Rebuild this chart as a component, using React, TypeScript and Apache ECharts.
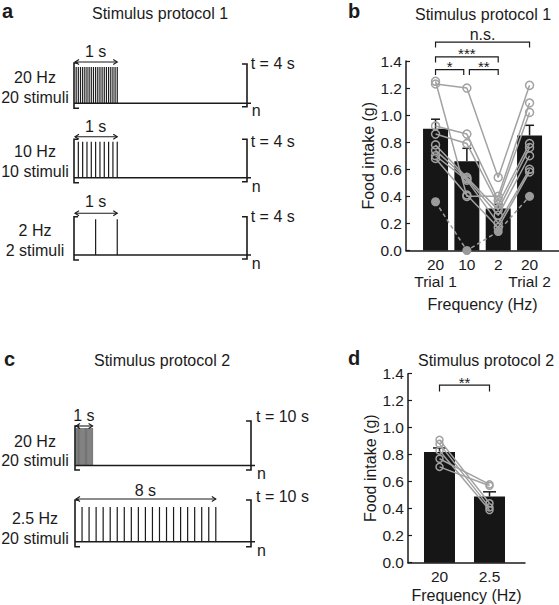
import React, { useEffect, useRef } from 'react';
import * as echarts from 'echarts';

// ---------------- data ----------------
// Panel b (stimulus protocol 1)
const freqLabelsB = ['20\nTrial 1', '10', '2', '20\nTrial 2'];
const meanB = [0.9, 0.66, 0.31, 0.85];
const semB = [0.07, 0.095, 0.03, 0.075];
const subjB1 = [1.23, 1.2, 0.54, 1.22];
const subjB2 = [1.25, 0.4, 0.4, 1.09];
const subjB3 = [0.92, 0.86, 0.37, 1.02];
const subjB4 = [0.86, 0.79, 0.34, 0.79];
const subjB5 = [0.78, 0.54, 0.3, 0.76];
const subjB6 = [0.74, 0.53, 0.26, 0.7];
const subjB7 = [0.7, 0.52, 0.2, 0.6];
const subjB8 = [0.68, 0.41, 0.17, 0.58];
const subjectsB = [subjB1, subjB2, subjB3, subjB4, subjB5, subjB6, subjB7, subjB8];
const filledSubjectB = [0.36, 0.0, 0.14, 0.4];
const bracketsB = [
  [1, 1.9, 1.337],
  [2.08, 3, 1.337],
  [1, 3, 1.43],
  [1, 4, 1.54],
];
const bracketLabelsB = ['*', '**', '***', 'n.s.'];

// Panel d (stimulus protocol 2)
const freqLabelsD = ['20', '2.5'];
const meanD = [0.82, 0.49];
const semD = [0.03, 0.035];
const subjectsD = [
  [0.91, 0.44],
  [0.88, 0.41],
  [0.83, 0.39],
  [0.77, 0.58],
  [0.71, 0.57],
];
const bracketsD = [[1, 2, 1.316]];
const bracketLabelsD = ['**'];

// Panels a and c (stimulus trains)
const p1Freq = [20, 10, 2];
const p1Count = [20, 10, 2];
const p1Window = 4; // s
const p1Span = [1, 1, 1];
const p2Freq = [20, 2.5];
const p2Count = [20, 20];
const p2Window = 10; // s
const p2Span = [1, 8];

// ---------------- style ----------------
const FONT = '"Liberation Sans", Arial, Helvetica, sans-serif';
const INK = '#1b1b1b';
const GRAY = '#a2a2a2';

// pixel layout of each train (style only)
const trainLayout = [
  { left: 74, right: 247, top: 67, base: 103.3, arrowDy: -5, spanTextDy: -16, lbTop: -4, lbBot: 5, rbTop: -3, rbBot: 3.5, lab1Y: 77, lab2Y: 97, tX: 250.7, tY: 63.3, nY: 110.7 },
  { left: 74, right: 247, top: 141.7, base: 177.7, arrowDy: -5, spanTextDy: -15.7, lbTop: -2.4, lbBot: 5, rbTop: -2.4, rbBot: 4, lab1Y: 151, lab2Y: 171, tX: 250.7, tY: 141.7, nY: 186.7 },
  { left: 74, right: 247, top: 219.3, base: 255, arrowDy: -6, spanTextDy: -17.6, lbTop: -2.6, lbBot: 5, rbTop: -2.6, rbBot: 4, lab1Y: 230, lab2Y: 250, tX: 250.7, tY: 216.7, nY: 263.3 },
  { left: 75, right: 251, top: 428, base: 465.5, arrowDy: -2, spanTextDy: -13, lbTop: -2, lbBot: 4.5, rbTop: -7, rbBot: 4.5, lab1Y: 441.7, lab2Y: 460.7, tX: 256, tY: 416.7, nY: 473 },
  { left: 75, right: 251, top: 507, base: 541.7, arrowDy: -8, spanTextDy: -17, lbTop: -7, lbBot: 5, rbTop: -7, rbBot: 5, lab1Y: 518, lab2Y: 538, tX: 256, tY: 496, nY: 550 },
];

const trains = [
  ...p1Freq.map((f, i) => ({ freq: f, count: p1Count[i], win: p1Window, span: p1Span[i], hz: `${f} Hz`, stim: `${p1Count[i]} stimuli`, tLabel: `t = ${p1Window} s` })),
  ...p2Freq.map((f, i) => ({ freq: f, count: p2Count[i], win: p2Window, span: p2Span[i], hz: `${f} Hz`, stim: `${p2Count[i]} stimuli`, tLabel: `t = ${p2Window} s` })),
];

function txt(text: string, x: number, y: number, o: any = {}) {
  const align = o.align || 'left';
  return {
    type: 'text',
    x,
    y,
    silent: true,
    style: {
      text,
      fill: INK,
      fontSize: o.size || 16,
      fontFamily: FONT,
      fontWeight: o.bold ? 'bold' : 'normal',
      align,
      textAlign: align,
      verticalAlign: 'middle',
      textVerticalAlign: 'middle',
    },
  };
}

function errRender(halfCap: number) {
  return (params: any, api: any) => {
    const x = api.value(0);
    const m = api.value(1);
    const s = api.value(2);
    const p0 = api.coord([x, m]);
    const p1 = api.coord([x, m + s]);
    return {
      type: 'group',
      children: [
        { type: 'line', shape: { x1: p0[0], y1: p0[1], x2: p1[0], y2: p1[1] }, style: { stroke: INK, lineWidth: 1.5 } },
        { type: 'line', shape: { x1: p1[0] - halfCap, y1: p1[1], x2: p1[0] + halfCap, y2: p1[1] }, style: { stroke: INK, lineWidth: 1.5 } },
      ],
    };
  };
}

function bracketRender(labels: string[], legPx: number) {
  return (params: any, api: any) => {
    const i = params.dataIndex;
    const a = api.coord([api.value(0), api.value(2)]);
    const b = api.coord([api.value(1), api.value(2)]);
    const label = labels[i];
    const star = label.indexOf('*') >= 0;
    return {
      type: 'group',
      children: [
        {
          type: 'polyline',
          shape: { points: [[a[0], a[1] + legPx], [a[0], a[1]], [b[0], b[1]], [b[0], b[1] + legPx]] },
          style: { stroke: INK, lineWidth: 1.2, fill: 'none' },
        },
        {
          type: 'text',
          style: {
            text: label,
            x: (a[0] + b[0]) / 2,
            y: a[1] - (star ? 3 : 8),
            align: 'center',
            verticalAlign: 'middle',
            fill: INK,
            fontSize: star ? 15 : 16,
            fontFamily: FONT,
          },
        },
      ],
    };
  };
}

function pulseRender(params: any, api: any) {
  const t = api.value(0);
  const a = api.coord([t, 0]);
  const b = api.coord([t, 1]);
  // spacing in px to the next pulse, so dense trains look grey as in the print
  const dt = api.value(2);
  const next = api.coord([t + dt, 0]);
  const gap = Math.abs(next[0] - a[0]);
  const w = gap < 1.5 ? 0.6 : 1.2;
  const col = gap < 1.5 ? '#222' : INK;
  return { type: 'line', shape: { x1: a[0], y1: a[1], x2: b[0], y2: b[1] }, style: { stroke: col, lineWidth: w } };
}

function decoRender(win: number, span: number, spanText: string, L: any) {
  return (params: any, api: any) => {
    const p0 = api.coord([0, 0]);
    const pT = api.coord([win, 1]);
    const x0 = p0[0];
    const base = p0[1];
    const xR = pT[0];
    const top = pT[1];
    const xS = api.coord([span, 1])[0];
    const ay = top + L.arrowDy;
    const h = 4;
    const st = { stroke: INK, lineWidth: 1.6, fill: 'none' };
    const thin = { stroke: INK, lineWidth: 1.1, fill: 'none' };
    return {
      type: 'group',
      children: [
        { type: 'line', shape: { x1: x0, y1: base, x2: xR + 4, y2: base }, style: st },
        { type: 'polyline', shape: { points: [[x0 + 4, top + L.lbTop], [x0, top + L.lbTop], [x0, base + L.lbBot], [x0 + 5, base + L.lbBot]] }, style: st },
        { type: 'polyline', shape: { points: [[xR - 5, top + L.rbTop], [xR, top + L.rbTop], [xR, base + L.rbBot], [xR - 5, base + L.rbBot]] }, style: st },
        { type: 'line', shape: { x1: x0 + 1, y1: ay, x2: xS, y2: ay }, style: thin },
        { type: 'polyline', shape: { points: [[x0 + 1 + h, ay - 2.5], [x0 + 1, ay], [x0 + 1 + h, ay + 2.5]] }, style: thin },
        { type: 'polyline', shape: { points: [[xS - h, ay - 2.5], [xS, ay], [xS - h, ay + 2.5]] }, style: thin },
        {
          type: 'text',
          style: {
            text: spanText,
            x: (x0 + xS) / 2,
            y: top + L.spanTextDy,
            align: 'center',
            verticalAlign: 'middle',
            fill: INK,
            fontSize: 16,
            fontFamily: FONT,
          },
        },
      ],
    };
  };
}

export default function App() {
  const ref = useRef<HTMLDivElement>(null);

  useEffect(() => {
    if (!ref.current) return;
    const chart = echarts.init(ref.current, undefined, { renderer: 'svg' });

    const yAxisStyle = (gridIndex: number) => ({
      type: 'value',
      gridIndex,
      min: 0,
      max: 1.4,
      interval: 0.2,
      name: 'Food intake (g)',
      nameLocation: 'middle',
      nameGap: 29,
      nameRotate: 90,
      nameTextStyle: { color: INK, fontSize: 16, fontFamily: FONT },
      axisLine: { show: true, lineStyle: { color: INK, width: 1.5 } },
      axisTick: { show: true, inside: true, length: 4, lineStyle: { color: INK, width: 1.2 } },
      axisLabel: { color: INK, fontSize: 15.5, fontFamily: FONT, margin: 4, formatter: (v: number) => v.toFixed(1) },
      splitLine: { show: false },
    });

    const grids: any[] = [
      { left: 406, top: 61, width: 153, height: 189.5, containLabel: false, outerBoundsMode: 'none' },
      { left: 408, top: 373.7, width: 117, height: 189, containLabel: false, outerBoundsMode: 'none' },
      ...trainLayout.map((L) => ({ left: L.left, top: L.top, width: L.right - L.left, height: L.base - L.top, containLabel: false, outerBoundsMode: 'none' })),
    ];

    const xAxes: any[] = [
      {
        type: 'value',
        gridIndex: 0,
        min: 0.0575,
        max: 4.94,
        name: 'Frequency (Hz)',
        nameLocation: 'middle',
        nameGap: 46,
        nameTextStyle: { color: INK, fontSize: 16, fontFamily: FONT },
        axisLine: { show: true, onZero: false, lineStyle: { color: INK, width: 1.5 } },
        axisTick: { show: false },
        splitLine: { show: false },
        axisLabel: {
          customValues: [1, 2, 3, 4],
          color: INK,
          fontSize: 15.5,
          fontFamily: FONT,
          lineHeight: 17,
          margin: 5,
          formatter: (v: number) => freqLabelsB[Math.round(v) - 1] || '',
        },
      },
      {
        type: 'value',
        gridIndex: 1,
        min: 0.37,
        max: 2.71,
        name: 'Frequency (Hz)',
        nameLocation: 'middle',
        nameGap: 25,
        nameTextStyle: { color: INK, fontSize: 16, fontFamily: FONT },
        axisLine: { show: true, onZero: false, lineStyle: { color: INK, width: 1.5 } },
        axisTick: { show: false },
        splitLine: { show: false },
        axisLabel: {
          customValues: [1, 2],
          color: INK,
          fontSize: 15.5,
          fontFamily: FONT,
          margin: 6,
          formatter: (v: number) => freqLabelsD[Math.round(v) - 1] || '',
        },
      },
      ...trains.map((T, i) => ({ type: 'value', gridIndex: i + 2, min: 0, max: T.win, show: false })),
    ];

    const yAxes: any[] = [
      yAxisStyle(0),
      yAxisStyle(1),
      ...trains.map((T, i) => ({ type: 'value', gridIndex: i + 2, min: 0, max: 1, show: false })),
    ];

    const series: any[] = [];

    // Panel b
    series.push({
      type: 'bar',
      xAxisIndex: 0,
      yAxisIndex: 0,
      data: meanB.map((v, i) => [i + 1, v]),
      barWidth: 25,
      itemStyle: { color: '#161616' },
      silent: true,
      z: 1,
    });
    series.push({
      type: 'custom',
      xAxisIndex: 0,
      yAxisIndex: 0,
      data: meanB.map((v, i) => [i + 1, v, semB[i]]),
      renderItem: errRender(4.5),
      clip: false,
      silent: true,
      z: 2,
    });
    subjectsB.forEach((vals) => {
      series.push({
        type: 'line',
        xAxisIndex: 0,
        yAxisIndex: 0,
        data: vals.map((v, i) => [i + 1, v]),
        symbol: 'circle',
        symbolSize: 8,
        itemStyle: { color: 'rgba(0,0,0,0)', borderColor: GRAY, borderWidth: 1.5 },
        lineStyle: { color: GRAY, width: 1.5 },
        emphasis: { disabled: true },
        silent: true,
        z: 4,
      });
    });
    series.push({
      type: 'line',
      xAxisIndex: 0,
      yAxisIndex: 0,
      data: filledSubjectB.map((v, i) => [i + 1, v]),
      symbol: 'circle',
      symbolSize: 9,
      itemStyle: { color: '#9a9a9a' },
      lineStyle: { color: '#9a9a9a', width: 1.5, type: [4, 3] },
      emphasis: { disabled: true },
      silent: true,
      clip: false,
      z: 4,
    });
    series.push({
      type: 'custom',
      xAxisIndex: 0,
      yAxisIndex: 0,
      data: bracketsB,
      renderItem: bracketRender(bracketLabelsB, 5.5),
      clip: false,
      silent: true,
      z: 5,
    });

    // Panel d
    series.push({
      type: 'bar',
      xAxisIndex: 1,
      yAxisIndex: 1,
      data: meanD.map((v, i) => [i + 1, v]),
      barWidth: 31,
      itemStyle: { color: '#161616' },
      silent: true,
      z: 1,
    });
    series.push({
      type: 'custom',
      xAxisIndex: 1,
      yAxisIndex: 1,
      data: meanD.map((v, i) => [i + 1, v, semD[i]]),
      renderItem: errRender(6.5),
      clip: false,
      silent: true,
      z: 2,
    });
    subjectsD.forEach((vals) => {
      series.push({
        type: 'line',
        xAxisIndex: 1,
        yAxisIndex: 1,
        data: vals.map((v, i) => [i + 1, v]),
        symbol: 'circle',
        symbolSize: 7,
        itemStyle: { color: 'rgba(0,0,0,0)', borderColor: GRAY, borderWidth: 1.5 },
        lineStyle: { color: GRAY, width: 1.5 },
        emphasis: { disabled: true },
        silent: true,
        z: 4,
      });
    });
    series.push({
      type: 'custom',
      xAxisIndex: 1,
      yAxisIndex: 1,
      data: bracketsD,
      renderItem: bracketRender(bracketLabelsD, 6.5),
      clip: false,
      silent: true,
      z: 5,
    });

    // Panels a and c: stimulus trains (pulse k at k / frequency)
    trains.forEach((T, i) => {
      const times = Array.from({ length: T.count }, (_, k) => [(k + 1) / T.freq, 1, 1 / T.freq]);
      series.push({
        type: 'custom',
        xAxisIndex: i + 2,
        yAxisIndex: i + 2,
        data: times,
        renderItem: pulseRender,
        clip: false,
        silent: true,
      });
      series.push({
        type: 'custom',
        xAxisIndex: i + 2,
        yAxisIndex: i + 2,
        data: [[0, 0]],
        renderItem: decoRender(T.win, T.span, `${T.span} s`, trainLayout[i]),
        clip: false,
        silent: true,
      });
    });

    const graphics: any[] = [
      txt('a', 2, 11, { bold: true, size: 20 }),
      txt('Stimulus protocol 1', 160, 13.5, { align: 'center' }),
      txt('b', 348, 11, { bold: true, size: 20 }),
      txt('Stimulus protocol 1', 483, 14, { align: 'center' }),
      txt('c', 4, 359, { bold: true, size: 20 }),
      txt('Stimulus protocol 2', 162, 360, { align: 'center' }),
      txt('d', 348, 358, { bold: true, size: 20 }),
      txt('Stimulus protocol 2', 486, 360, { align: 'center' }),
    ];
    trains.forEach((T, i) => {
      const L = trainLayout[i];
      graphics.push(txt(T.hz, 35, L.lab1Y, { align: 'center' }));
      graphics.push(txt(T.stim, 35, L.lab2Y, { align: 'center' }));
      graphics.push(txt(T.tLabel, L.tX, L.tY));
      graphics.push(txt('n', L.tX + 1, L.nY));
    });

    chart.setOption({
      animation: false,
      backgroundColor: '#ffffff',
      textStyle: { fontFamily: FONT },
      grid: grids,
      xAxis: xAxes,
      yAxis: yAxes,
      series,
      graphic: { elements: graphics },
    });

    return () => chart.dispose();
  }, []);

  return (
    <div
      ref={ref}
      style={{ position: 'fixed', left: 0, top: 0, width: 559, height: 605, background: '#fff' }}
    />
  );
}
